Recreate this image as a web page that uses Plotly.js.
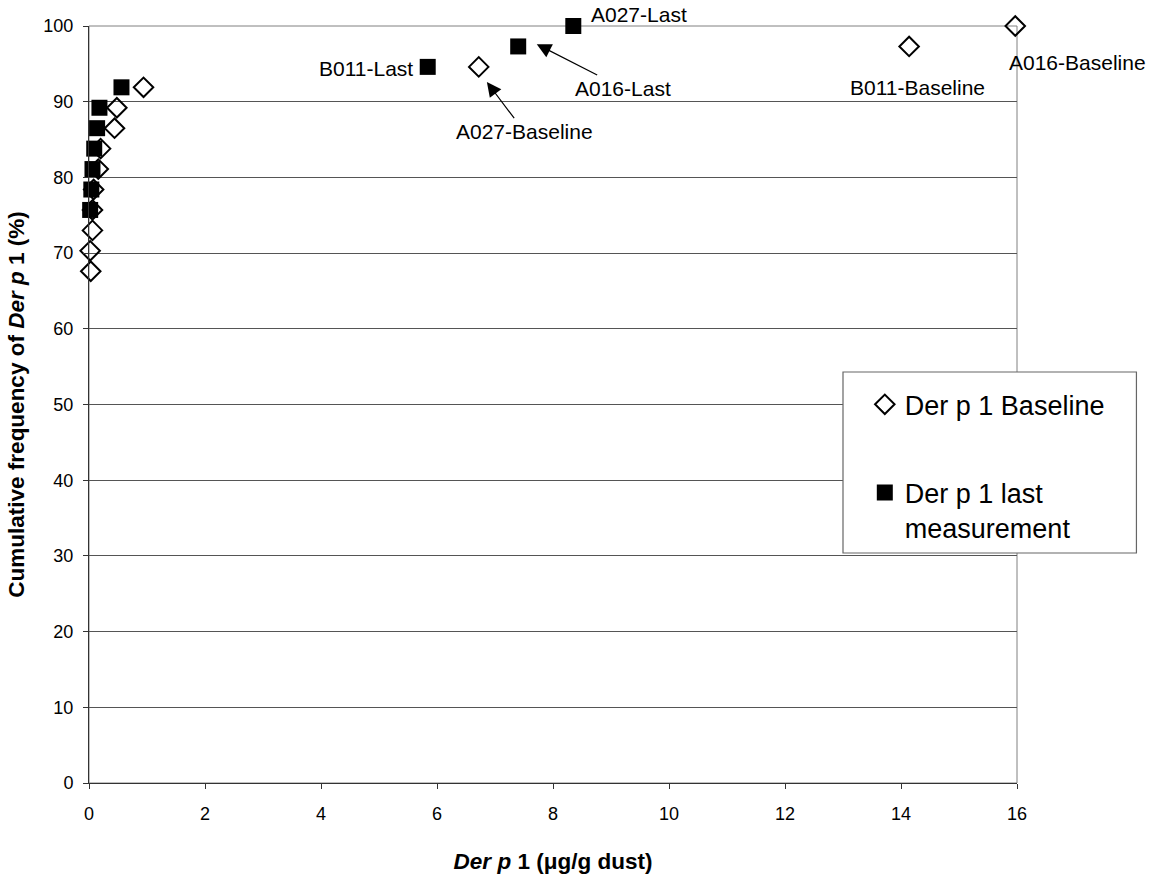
<!DOCTYPE html>
<html>
<head>
<meta charset="utf-8">
<script src="https://cdn.plot.ly/plotly-3.0.1.min.js"></script>
<style>html,body{margin:0;padding:0;background:#fff;}#chart{width:1155px;height:880px;}</style>
</head>
<body>
<div id="chart"></div>
<script>
// Cumulative frequency (%) and Der p 1 concentration (µg/g dust)
const baselineX = [0.03, 0.02, 0.06, 0.06, 0.08, 0.16, 0.20, 0.44, 0.48, 0.94, 6.72, 14.14, 15.97];
const baselineY = [67.6, 70.3, 73.0, 75.7, 78.4, 81.1, 83.8, 86.5, 89.2, 91.9, 94.6, 97.3, 100];
const lastX = [0.02, 0.04, 0.06, 0.09, 0.14, 0.18, 0.56, 5.84, 7.40, 8.35];
const lastY = [75.7, 78.4, 81.1, 83.8, 86.5, 89.2, 91.9, 94.6, 97.3, 100];
const seriesNames = ["Der p 1 Baseline", "Der p 1 last<br>measurement"];
const xTicks = [0, 2, 4, 6, 8, 10, 12, 14, 16];
const yTicks = [0, 10, 20, 30, 40, 50, 60, 70, 80, 90, 100];

const FONT = "Arial, 'Liberation Sans', sans-serif";

const traces = [
  {
    x: baselineX, y: baselineY, type: "scatter", mode: "markers",
    name: seriesNames[0], legendgroup: "a",
    cliponaxis: false,
    marker: {symbol: "diamond-open", size: 15, color: "#000", line: {color: "#000", width: 2}}
  },
  {
    x: lastX, y: lastY, type: "scatter", mode: "markers",
    name: seriesNames[1], legendgroup: "b",
    cliponaxis: false,
    marker: {symbol: "square", size: 16, color: "#000", line: {width: 0}}
  }
];

const annFont = {family: FONT, size: 21, color: "#000"};
const annotations = [
  {x: 8.62, y: 99.7, xref: "x", yref: "y", text: "A027-Last", showarrow: false, xanchor: "left", yanchor: "bottom", font: annFont},
  {x: 5.62, y: 94.4, xref: "x", yref: "y", text: "B011-Last", showarrow: false, xanchor: "right", yanchor: "middle", font: annFont},
  {x: 14.28, y: 91.9, xref: "x", yref: "y", text: "B011-Baseline", showarrow: false, xanchor: "center", yanchor: "middle", font: annFont},
  {x: 15.83, y: 95.2, xref: "x", yref: "y", text: "A016-Baseline", showarrow: false, xanchor: "left", yanchor: "middle", font: annFont},
  {x: 7.72, y: 97.6, xref: "x", yref: "y", axref: "x", ayref: "y", ax: 9.20, ay: 91.8,
   text: "A016-Last", showarrow: true, arrowhead: 2, arrowsize: 2.4, arrowwidth: 1.2, arrowcolor: "#000", font: annFont},
  {x: 6.86, y: 92.6, xref: "x", yref: "y", axref: "x", ayref: "y", ax: 7.50, ay: 86.1,
   text: "A027-Baseline", showarrow: true, arrowhead: 2, arrowsize: 2.4, arrowwidth: 1.2, arrowcolor: "#000", font: annFont}
];

const layout = {
  width: 1155, height: 880,
  margin: {l: 89, r: 138, t: 26, b: 97},
  paper_bgcolor: "#fff", plot_bgcolor: "#fff",
  font: {family: FONT, color: "#000", size: 18},
  showlegend: true,
  legend: {
    x: 0.836, y: 0.532, xanchor: "left", yanchor: "top",
    bgcolor: "rgba(0,0,0,0)", borderwidth: 0, valign: "top",
    font: {family: FONT, size: 27, color: "#000"},
    traceorder: "grouped", tracegroupgap: 50
  },
  xaxis: {
    range: [0, 16], tickvals: xTicks, ticktext: xTicks.map(String),
    showgrid: false, zeroline: false, showline: true, linecolor: "#333", linewidth: 1,
    ticks: "outside", ticklen: 5, tickcolor: "#333",
    tickfont: {family: FONT, size: 18}, ticklabelstandoff: 9,
    title: {text: "<b><i>Der p</i> 1 (μg/g dust)</b>", font: {family: FONT, size: 22.5}, standoff: 30}
  },
  yaxis: {
    range: [0, 100], tickvals: yTicks, ticktext: yTicks.map(String),
    showgrid: true, gridcolor: "#555", gridwidth: 1,
    zeroline: false, showline: true, linecolor: "#333", linewidth: 1,
    ticks: "outside", ticklen: 5, tickcolor: "#333",
    tickfont: {family: FONT, size: 18}, ticklabelstandoff: 6,
    title: {text: "<b>Cumulative frequency of <i>Der p</i> 1 (%)</b>", font: {family: FONT, size: 22.5}, standoff: 12}
  },
  shapes: [
    {type: "rect", xref: "paper", yref: "paper", x0: 0, x1: 1, y0: 0, y1: 1, line: {color: "#808080", width: 1}, layer: "below"},
    {type: "rect", xref: "paper", yref: "paper", x0: 0.8125, x1: 1.1287, y0: 0.3038, y1: 0.5429,
     fillcolor: "#fff", line: {color: "#666", width: 1.2}, layer: "above"}
  ],
  annotations: annotations
};

Plotly.newPlot("chart", traces, layout, {staticPlot: true, displayModeBar: false});
</script>
</body>
</html>
